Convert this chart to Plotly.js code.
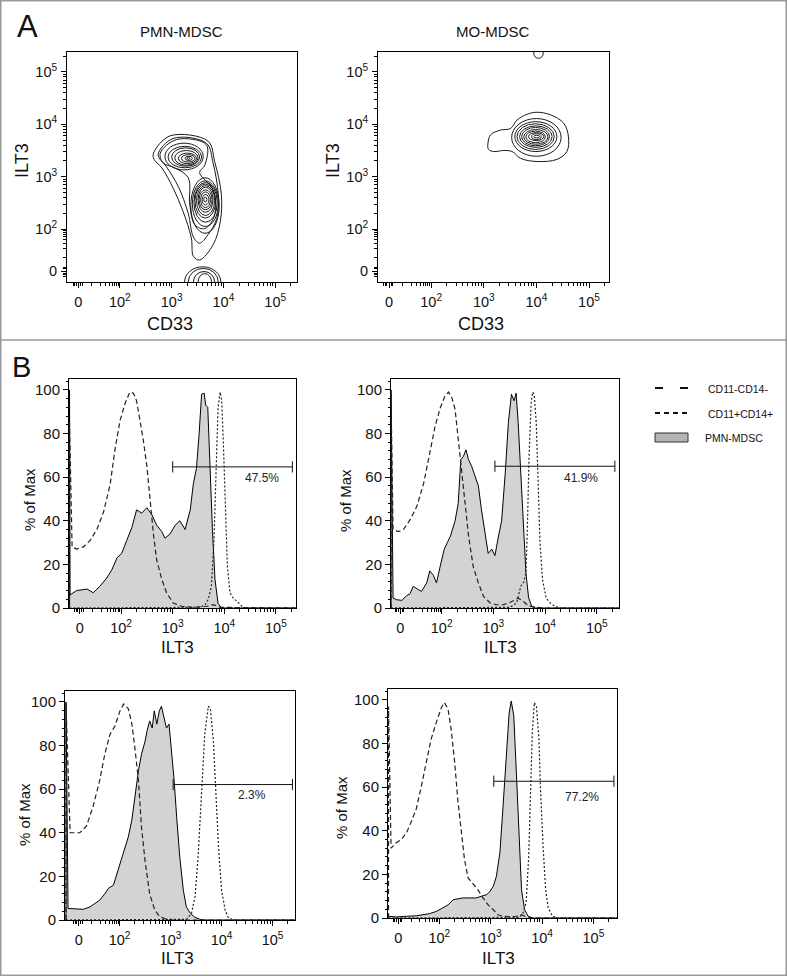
<!DOCTYPE html>
<html><head><meta charset="utf-8">
<script src="https://cdn.plot.ly/plotly-3.0.1.min.js"></script>
<style>html,body{margin:0;padding:0;background:#fff}#chart{width:787px;height:976px}</style>
</head><body><div id="chart"></div>
<script>
// ---------- DATA (axis display units: decades for CD33 / ILT3, % of Max for histograms) ----------
const decadeTickVals = [1.2, 2, 3, 4, 5];
const decadeTickText = ['0', '10<sup>2</sup>', '10<sup>3</sup>', '10<sup>4</sup>', '10<sup>5</sup>'];
const nearZeroMinor = [1.1, 1.13, 1.16, 1.24, 1.27, 1.45, 1.62, 1.73, 1.8, 1.86, 1.9, 1.94, 1.97];

// Panel A – PMN-MDSC contour outlines (CD33, ILT3)
const pmnOuterX = [2.65, 2.97, 3.70, 3.83, 3.96, 3.94, 3.80, 3.54, 3.42, 3.38, 3.22, 3.03, 2.81, 2.66, 2.65];
const pmnOuterY = [3.45, 3.78, 3.68, 3.29, 2.66, 2.15, 1.70, 1.41, 1.48, 1.83, 2.34, 2.78, 3.17, 3.33, 3.45];
const pmnMidX = [2.74, 3.03, 3.67, 3.80, 3.90, 3.87, 3.70, 3.54, 3.42, 3.32, 3.13, 2.90, 2.74];
const pmnMidY = [3.42, 3.73, 3.64, 3.26, 2.65, 2.20, 1.89, 1.73, 1.85, 2.30, 2.81, 3.19, 3.42];
const pmnWaistX = [2.78, 3.10, 3.67, 3.64, 3.54, 3.80, 3.83, 3.64, 3.45, 3.35, 3.32, 3.06, 2.84, 2.78];
const pmnWaistY = [3.45, 3.71, 3.61, 3.22, 3.08, 2.75, 2.27, 2.01, 2.08, 2.46, 2.98, 3.17, 3.26, 3.45];
// nested rings: [x0, x1] x [y0, y1]
const pmnHighX0 = [2.87, 2.93, 3.00, 3.06, 3.13, 3.19, 3.26, 3.30];
const pmnHighX1 = [3.61, 3.58, 3.54, 3.51, 3.48, 3.45, 3.40, 3.35];
const pmnHighY0 = [3.13, 3.17, 3.20, 3.22, 3.25, 3.28, 3.31, 3.33];
const pmnHighY1 = [3.64, 3.58, 3.55, 3.50, 3.45, 3.42, 3.39, 3.37];
const pmnMidPopX0 = [3.37, 3.40, 3.43, 3.45, 3.48, 3.51, 3.53, 3.56, 3.59, 3.62];
const pmnMidPopX1 = [3.92, 3.90, 3.88, 3.85, 3.83, 3.80, 3.78, 3.75, 3.72, 3.68];
const pmnMidPopY0 = [1.92, 2.05, 2.13, 2.21, 2.26, 2.32, 2.37, 2.41, 2.46, 2.52];
const pmnMidPopY1 = [2.98, 2.92, 2.89, 2.86, 2.83, 2.80, 2.75, 2.71, 2.66, 2.61];
const pmnLowX0 = [3.25, 3.32, 3.42, 3.51];
const pmnLowX1 = [3.95, 3.90, 3.83, 3.77];
const pmnLowY0 = [0.70, 0.73, 0.79, 0.83];
const pmnLowY1 = [1.28, 1.25, 1.19, 1.15];

// Panel A – MO-MDSC contours
const moOuterX = [3.08, 3.13, 3.32, 3.51, 3.63, 3.82, 4.01, 4.27, 4.52, 4.61, 4.58, 4.39, 4.01, 3.70, 3.54, 3.38, 3.19, 3.09, 3.08];
const moOuterY = [3.64, 3.80, 3.89, 3.92, 4.08, 4.19, 4.23, 4.18, 4.02, 3.76, 3.48, 3.33, 3.29, 3.35, 3.48, 3.50, 3.48, 3.52, 3.64];
const moRingX0 = [3.53, 3.59, 3.63, 3.68, 3.72, 3.76, 3.80, 3.85, 3.91, 3.95, 3.95];
const moRingX1 = [4.47, 4.39, 4.34, 4.30, 4.25, 4.22, 4.17, 4.14, 4.09, 4.06, 4.13];
const moRingY0 = [3.39, 3.48, 3.52, 3.56, 3.59, 3.62, 3.65, 3.69, 3.71, 3.74, 5.26];
const moRingY1 = [4.11, 4.05, 4.01, 3.97, 3.94, 3.90, 3.87, 3.84, 3.82, 3.79, 5.45];

// Panel B – histograms (ILT3 decades, % of Max)
const h1SolidX = [1.0, 1.0, 1.01, 1.14, 1.34, 1.46, 1.59, 1.72, 1.82, 1.92, 2.01, 2.11, 2.21, 2.30, 2.40, 2.50, 2.59, 2.69, 2.79, 2.85, 2.95, 3.05, 3.14, 3.24, 3.34, 3.40, 3.46, 3.51, 3.56, 3.61, 3.64, 3.68, 3.72, 3.77, 3.82, 3.88, 3.95, 5.39];
const h1SolidY = [0, 100, 6, 8, 8.7, 7, 10, 13.7, 17.5, 23, 25, 31, 37, 45, 43.5, 46, 43, 38, 35, 32, 34, 38, 40, 36, 45, 57, 64, 79, 98, 98.5, 93, 92, 65, 36, 13, 2, 0, 0];
const h1DashX = [1.0, 1.0, 1.05, 1.14, 1.27, 1.40, 1.53, 1.66, 1.79, 1.88, 1.98, 2.08, 2.17, 2.24, 2.30, 2.37, 2.43, 2.50, 2.56, 2.63, 2.69, 2.79, 2.88, 3.01, 3.17, 3.40, 3.66, 3.79, 3.92, 5.39];
const h1DashY = [0, 85, 28, 27, 28, 31, 36, 44, 57, 72.5, 86, 94, 99, 98.5, 95, 86, 77, 65, 50, 33, 22, 13, 7, 2.3, 0.8, 0.3, 0.8, 1.5, 0.3, 0];
const h1DotX = [1.0, 3.53, 3.63, 3.69, 3.75, 3.80, 3.84, 3.88, 3.92, 3.95, 3.98, 4.02, 4.06, 4.11, 4.17, 4.25, 4.34, 4.40, 5.39];
const h1DotY = [0, 0.3, 1.5, 4, 10, 31, 62, 92, 99, 95, 77, 47, 19, 7, 4.6, 3, 0.8, 0, 0];

const h2SolidX = [1.02, 1.02, 1.06, 1.13, 1.23, 1.32, 1.39, 1.45, 1.53, 1.61, 1.71, 1.77, 1.84, 1.90, 1.97, 2.05, 2.11, 2.17, 2.26, 2.32, 2.37, 2.42, 2.47, 2.52, 2.58, 2.65, 2.71, 2.77, 2.84, 2.90, 2.97, 3.03, 3.10, 3.16, 3.23, 3.29, 3.35, 3.40, 3.44, 3.48, 3.53, 3.58, 3.63, 3.68, 3.74, 3.81, 5.43];
const h2SolidY = [0, 100, 4.6, 3.8, 3.5, 5.6, 6.6, 10, 8.7, 7.6, 11.5, 17, 15, 11.5, 19, 27, 30, 33, 40, 48, 68, 69.5, 72.5, 68, 65, 60, 56, 45, 34, 25, 27, 24, 33, 40, 62, 85, 98, 95, 98.5, 85, 62, 37, 16, 5, 0.8, 0, 0];
const h2DashX = [1.02, 1.02, 1.06, 1.16, 1.26, 1.39, 1.52, 1.65, 1.77, 1.87, 1.97, 2.06, 2.13, 2.19, 2.26, 2.32, 2.39, 2.45, 2.52, 2.61, 2.71, 2.81, 2.94, 3.06, 3.19, 3.32, 3.42, 3.48, 3.58, 3.68, 3.84, 3.97, 5.43];
const h2DashY = [0, 98, 36, 35, 36, 40.5, 46.6, 57, 71, 83, 91.6, 97, 99, 97, 91, 77, 62, 46.6, 33, 19, 11.5, 5.3, 2.3, 1.5, 1.5, 2.5, 4, 4.5, 3, 1, 0.3, 0, 0];
const h2DotX = [1.02, 3.32, 3.45, 3.53, 3.59, 3.63, 3.66, 3.69, 3.73, 3.76, 3.79, 3.83, 3.86, 3.90, 3.95, 4.02, 4.10, 4.19, 4.29, 5.43];
const h2DotY = [0, 0.3, 2.3, 10, 12, 16, 39, 69.5, 94, 99, 97.7, 85, 62, 31, 13, 4.6, 2.3, 0.8, 0, 0];

const h3SolidX = [0.95, 0.95, 0.99, 1.16, 1.29, 1.42, 1.52, 1.61, 1.71, 1.78, 1.88, 1.97, 2.04, 2.10, 2.17, 2.24, 2.30, 2.37, 2.43, 2.50, 2.54, 2.59, 2.64, 2.68, 2.73, 2.78, 2.82, 2.87, 2.92, 2.97, 3.02, 3.07, 3.12, 3.18, 3.25, 3.31, 3.39, 3.48, 3.58, 3.67, 5.44];
const h3SolidY = [0, 100, 5.3, 4.9, 4.9, 6, 7.6, 9.1, 12, 14.5, 16, 22.8, 27.4, 32, 38, 45.7, 56, 68.5, 76, 82, 86.8, 91.3, 88, 95.9, 89.8, 95.9, 98, 92.8, 88, 89.8, 77.6, 64, 47, 29, 13.7, 6, 3, 1.2, 0.3, 0, 0];
const h3DashX = [0.95, 0.95, 1.03, 1.09, 1.22, 1.35, 1.48, 1.61, 1.71, 1.81, 1.91, 2.01, 2.08, 2.17, 2.24, 2.30, 2.37, 2.43, 2.50, 2.59, 2.69, 2.79, 2.92, 3.05, 5.44];
const h3DashY = [0, 99, 40, 40, 40, 43, 52, 64, 76, 85, 89, 96, 99, 97, 90, 79, 64, 42.6, 27, 12, 4.6, 1.5, 0.3, 0, 0];
const h3DotX = [0.95, 3.31, 3.41, 3.48, 3.54, 3.61, 3.67, 3.74, 3.78, 3.84, 3.89, 3.94, 4.00, 4.07, 4.13, 4.23, 5.44];
const h3DotY = [0, 0.3, 3, 10.7, 29, 59, 85, 98, 97, 82, 59, 33.5, 13.7, 4.6, 1.2, 0, 0];

const h4SolidX = [1.01, 1.16, 1.36, 1.55, 1.68, 1.81, 1.94, 2.07, 2.17, 2.27, 2.36, 2.46, 2.59, 2.72, 2.82, 2.92, 2.98, 3.05, 3.11, 3.18, 3.24, 3.31, 3.36, 3.40, 3.45, 3.50, 3.55, 3.60, 3.66, 3.73, 3.82, 5.46];
const h4SolidY = [0.8, 0.5, 0.8, 1, 1.5, 2, 3, 4.6, 6, 8.4, 8.7, 9.2, 9.2, 9.2, 10, 10.7, 12, 14.5, 19, 30, 51, 74, 94, 99.5, 92.6, 66.6, 36, 13, 3.8, 0.8, 0, 0];
const h4DashX = [1.01, 1.01, 1.06, 1.16, 1.26, 1.36, 1.45, 1.55, 1.65, 1.75, 1.84, 1.94, 2.04, 2.10, 2.17, 2.23, 2.30, 2.36, 2.43, 2.49, 2.56, 2.66, 2.75, 2.85, 2.95, 3.05, 3.14, 3.24, 3.37, 3.50, 3.60, 3.69, 3.82, 5.46];
const h4DashY = [0, 97, 32, 34.5, 36, 39, 44, 50, 60.5, 71, 82, 89.6, 96.5, 98.8, 95.7, 86.5, 71, 54, 39, 26.8, 18.4, 15.3, 13, 9.2, 6, 3.8, 1.5, 0.8, 0.5, 0.8, 1.5, 0.5, 0, 0];
const h4DotX = [1.01, 3.56, 3.63, 3.69, 3.74, 3.78, 3.81, 3.85, 3.89, 3.94, 3.97, 4.02, 4.07, 4.12, 4.20, 4.28, 5.46];
const h4DotY = [0, 0.3, 2.3, 6.9, 28, 59, 85, 98.8, 97, 82, 59, 33, 13, 4.6, 1, 0, 0];

// gates: start, end, height, label
const gateStart = [3.00, 3.03, 3.05, 3.06];
const gateEnd = [5.32, 5.35, 5.39, 5.40];
const gateLevel = [64.7, 65, 62.1, 62.7];
const gateLabels = ['47.5%', '41.9%', '2.3%', '77.2%'];
const gateLabelX = [4.73, 4.69, 4.59, 4.77];
const gateLabelY = [59.6, 59.6, 57.5, 55.3];

const seriesNames = ['CD11-CD14-', 'CD11+CD14+', 'PMN-MDSC'];

// ---------- LAYOUT HELPERS ----------
const W = 787, H = 976;
const FONT = 'Arial, "Liberation Sans", Helvetica, sans-serif';
const INK = '#1a1a1a';
const fx = p => p / W;
const fy = p => 1 - p / H;

const logMinor = [];
[2, 3, 4].forEach(n => { for (let k = 2; k <= 9; k++) logMinor.push(n + Math.log10(k)); });
logMinor.push(5 + Math.log10(2));
const minorVals = nearZeroMinor.concat(logMinor);

function logAxis(px0, px1, range, anchor, isX, size) {
  const dom = isX ? [fx(px0), fx(px1)] : [fy(px1), fy(px0)];
  return {
    domain: dom, range: range, anchor: anchor,
    tickmode: 'array', tickvals: decadeTickVals, ticktext: decadeTickText,
    ticks: 'outside', ticklen: 5, tickwidth: 1, tickcolor: '#000',
    ticklabelstandoff: isX ? 2 : 1,
    showline: true, linecolor: '#000', linewidth: 1, mirror: true,
    showgrid: false, zeroline: false, fixedrange: true,
    tickfont: {family: FONT, size: size, color: '#111'},
    minor: {tickmode: 'array', tickvals: minorVals, ticks: 'outside', ticklen: 3, tickwidth: 1, tickcolor: '#000', showgrid: false}
  };
}
function pctAxis(py0, py1, anchor) {
  return {
    domain: [fy(py1), fy(py0)], range: [0, 105], anchor: anchor,
    tickmode: 'linear', tick0: 0, dtick: 20,
    ticks: 'outside', ticklen: 5, tickwidth: 1, tickcolor: '#000',
    showline: true, linecolor: '#000', linewidth: 1, mirror: true,
    showgrid: false, zeroline: false, fixedrange: true,
    tickfont: {family: FONT, size: 15, color: '#111'},
    minor: {tick0: 0, dtick: 4, ticks: 'outside', ticklen: 2.5, tickwidth: 1, tickcolor: '#000', showgrid: false}
  };
}

const data = [];
const shapes = [];
const annotations = [];

function addContour(xs, ys, xa, ya) {
  data.push({type: 'scatter', x: xs, y: ys, xaxis: xa, yaxis: ya, mode: 'lines',
    line: {color: INK, width: 1, shape: 'spline', smoothing: 1}, hoverinfo: 'skip', showlegend: false});
}
function addRings(x0s, x1s, y0s, y1s, xr, yr) {
  x0s.forEach((v, i) => shapes.push({type: 'circle', xref: xr, yref: yr, x0: v, x1: x1s[i], y0: y0s[i], y1: y1s[i],
    line: {color: INK, width: 1}, fillcolor: 'rgba(0,0,0,0)', layer: 'above'}));
}

// Panel A
addContour(pmnOuterX, pmnOuterY, 'x', 'y');
addContour(pmnMidX, pmnMidY, 'x', 'y');
addContour(pmnWaistX, pmnWaistY, 'x', 'y');
addRings(pmnHighX0, pmnHighX1, pmnHighY0, pmnHighY1, 'x', 'y');
addRings(pmnMidPopX0, pmnMidPopX1, pmnMidPopY0, pmnMidPopY1, 'x', 'y');
addRings(pmnLowX0, pmnLowX1, pmnLowY0, pmnLowY1, 'x', 'y');
addContour(moOuterX, moOuterY, 'x2', 'y2');
addRings(moRingX0, moRingX1, moRingY0, moRingY1, 'x2', 'y2');

// Panel B
const hists = [
  {xa: 'x3', ya: 'y3', sx: h1SolidX, sy: h1SolidY, dx: h1DashX, dy: h1DashY, ox: h1DotX, oy: h1DotY},
  {xa: 'x4', ya: 'y4', sx: h2SolidX, sy: h2SolidY, dx: h2DashX, dy: h2DashY, ox: h2DotX, oy: h2DotY},
  {xa: 'x5', ya: 'y5', sx: h3SolidX, sy: h3SolidY, dx: h3DashX, dy: h3DashY, ox: h3DotX, oy: h3DotY},
  {xa: 'x6', ya: 'y6', sx: h4SolidX, sy: h4SolidY, dx: h4DashX, dy: h4DashY, ox: h4DotX, oy: h4DotY}
];
hists.forEach((h, i) => {
  data.push({type: 'scatter', x: h.sx, y: h.sy, xaxis: h.xa, yaxis: h.ya, mode: 'lines', name: seriesNames[2],
    line: {color: '#000', width: 1}, fill: 'tozeroy', fillcolor: 'rgb(211,211,211)', hoverinfo: 'skip', showlegend: false});
  data.push({type: 'scatter', x: h.dx, y: h.dy, xaxis: h.xa, yaxis: h.ya, mode: 'lines', name: seriesNames[0],
    line: {color: '#222', width: 1.2, dash: '5px,3px'}, hoverinfo: 'skip', showlegend: false});
  data.push({type: 'scatter', x: h.ox, y: h.oy, xaxis: h.xa, yaxis: h.ya, mode: 'lines', name: seriesNames[1],
    line: {color: '#222', width: 1.2, dash: '2px,2px'}, hoverinfo: 'skip', showlegend: false});
  data.push({type: 'scatter', x: [gateStart[i], gateEnd[i]], y: [gateLevel[i], gateLevel[i]], xaxis: h.xa, yaxis: h.ya,
    mode: 'lines+markers', line: {color: '#111', width: 1},
    marker: {symbol: 'line-ns-open', size: 8, line: {color: '#111', width: 1}}, hoverinfo: 'skip', showlegend: false, cliponaxis: false});
  annotations.push({xref: h.xa, yref: h.ya, x: gateLabelX[i], y: gateLabelY[i], text: gateLabels[i], showarrow: false,
    xanchor: 'center', yanchor: 'middle', font: {family: FONT, size: 12, color: '#222'}});
});

// Text labels
function txt(t, x, y, size, opts) {
  annotations.push(Object.assign({xref: 'paper', yref: 'paper', x: fx(x), y: fy(y), text: t, showarrow: false,
    xanchor: 'center', yanchor: 'middle', font: {family: FONT, size: size, color: '#111'}}, opts || {}));
}
txt('A', 27, 27, 31);
txt('B', 21.5, 367, 29);
txt('PMN-MDSC', 181, 31, 15);
txt('MO-MDSC', 493, 31, 15);
txt('CD33', 170, 324, 18);
txt('CD33', 481, 324, 18);
txt('ILT3', 22, 161, 18, {textangle: -90});
txt('ILT3', 333, 161, 18, {textangle: -90});
txt('% of Max', 29, 499, 15, {textangle: -90});
txt('% of Max', 346, 501, 15, {textangle: -90});
txt('% of Max', 24, 815, 15, {textangle: -90});
txt('% of Max', 341, 808, 15, {textangle: -90});
txt('ILT3', 177, 647, 17);
txt('ILT3', 500, 647, 17);
txt('ILT3', 177, 958, 17);
txt('ILT3', 498, 958, 17);

// Legend (manual)
shapes.push({type: 'line', xref: 'paper', yref: 'paper', x0: fx(655), x1: fx(688), y0: fy(388), y1: fy(388), line: {color: '#111', width: 2.2, dash: '8px,17px'}});
shapes.push({type: 'line', xref: 'paper', yref: 'paper', x0: fx(655), x1: fx(688), y0: fy(413), y1: fy(413), line: {color: '#111', width: 2.2, dash: '5px,4px'}});
shapes.push({type: 'rect', xref: 'paper', yref: 'paper', x0: fx(655), x1: fx(688), y0: fy(442), y1: fy(433), fillcolor: '#b5b5b5', line: {color: '#333', width: 1}});
txt(seriesNames[0], 706, 389, 10.5, {xanchor: 'left'});
txt(seriesNames[1], 706, 414, 10.5, {xanchor: 'left'});
txt(seriesNames[2], 703, 438, 10.5, {xanchor: 'left'});

// Frame and divider
shapes.push({type: 'rect', xref: 'paper', yref: 'paper', x0: fx(0.75), x1: fx(786.25), y0: fy(975.25), y1: fy(0.75), line: {color: '#9a9a9a', width: 1.5}, fillcolor: 'rgba(0,0,0,0)'});
shapes.push({type: 'line', xref: 'paper', yref: 'paper', x0: 0, x1: 1, y0: fy(340), y1: fy(340), line: {color: '#9a9a9a', width: 1.5}});

const layout = {
  width: W, height: H, margin: {l: 0, r: 0, t: 0, b: 0},
  paper_bgcolor: '#fff', plot_bgcolor: '#fff', showlegend: false,
  font: {family: FONT, color: '#111'},
  xaxis: logAxis(67, 297, [0.98, 5.42], 'y', true, 14.5),
  yaxis: logAxis(52, 282, [0.99, 5.38], 'x', false, 14.5),
  xaxis2: logAxis(378, 609, [0.99, 5.38], 'y2', true, 14.5),
  yaxis2: logAxis(52, 282, [0.99, 5.38], 'x2', false, 14.5),
  xaxis3: logAxis(69, 296, [0.99, 5.39], 'y3', true, 14.5),
  yaxis3: pctAxis(379, 608, 'x3'),
  xaxis4: logAxis(391, 619, [1.02, 5.43], 'y4', true, 14.5),
  yaxis4: pctAxis(379, 608, 'x4'),
  xaxis5: logAxis(65, 295, [0.93, 5.44], 'y5', true, 14.5),
  yaxis5: pctAxis(691, 920, 'x5'),
  xaxis6: logAxis(388, 617, [1.0, 5.46], 'y6', true, 14.5),
  yaxis6: pctAxis(689, 918, 'x6'),
  shapes: shapes, annotations: annotations
};

Plotly.newPlot('chart', data, layout, {displayModeBar: false});
</script>
</body></html>
